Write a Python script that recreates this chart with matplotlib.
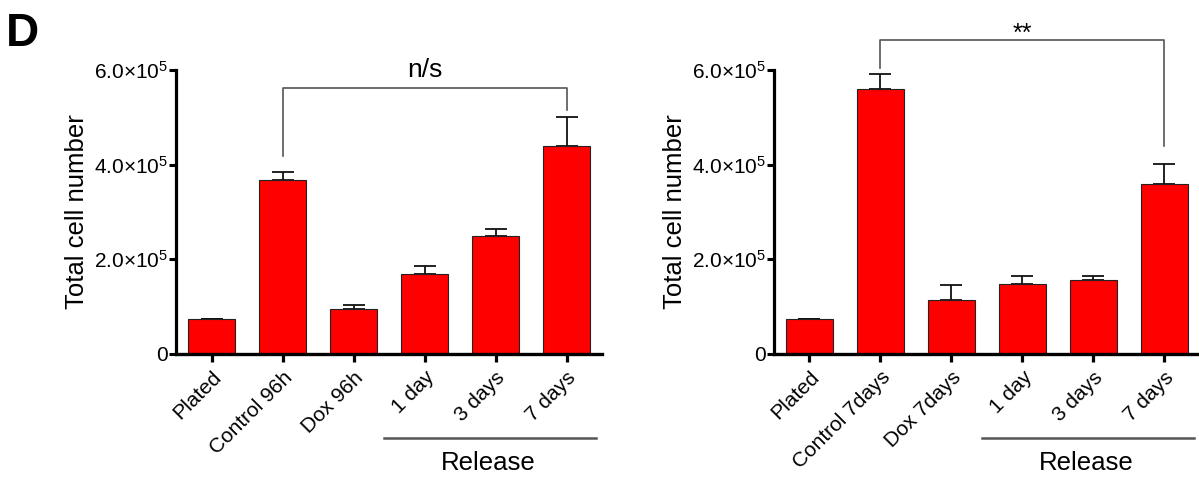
import matplotlib
matplotlib.use("Agg")
import matplotlib.pyplot as plt
import matplotlib.transforms as mtransforms
from matplotlib.ticker import FixedLocator, FixedFormatter

plt.rcParams['font.family'] = ['Liberation Sans', 'DejaVu Sans']
plt.rcParams['mathtext.fontset'] = 'custom'
plt.rcParams['mathtext.rm'] = 'Liberation Sans'
plt.rcParams['mathtext.it'] = 'Liberation Sans:italic'

# data (total cells, mean and upper error)
labels_left = ["Plated", "Control 96h", "Dox 96h", "1 day", "3 days", "7 days"]
means_left = [74000, 368000, 95000, 169000, 249000, 439000]
errs_left = [0, 17000, 8000, 17000, 16000, 61000]

labels_right = ["Plated", "Control 7days", "Dox 7days", "1 day", "3 days", "7 days"]
means_right = [73000, 560000, 114000, 148000, 157000, 360000]
errs_right = [0, 31000, 31000, 17000, 7000, 42000]

yticks = [0, 200000, 400000, 600000]
ytick_labels = ["0", "2.0×10$^5$", "4.0×10$^5$", "6.0×10$^5$"]

# significance brackets: (x1, x2, bar y, left leg end, right leg end, text, text y)
sig_left = (1, 5, 563000, 419000, 515000, "n/s", 585000)
sig_right = (1, 5, 663000, 605000, 440000, "**", 662000)

fig = plt.figure(figsize=(11.99, 4.82), dpi=100)


def draw_panel(ax, labels, means, errs, sig, sig_size):
    x = list(range(len(labels)))
    ax.bar(x, means, width=0.67, color="#ff0000", edgecolor="#222222", linewidth=0.8, zorder=2)
    ax.errorbar(x, means, yerr=[[0] * len(errs), errs], fmt="none", ecolor="#111111",
                elinewidth=1.3, capsize=8, capthick=1.3, zorder=1)
    ax.set_xlim(-0.5, 5.5)
    ax.set_ylim(0, 600000)
    ax.spines['top'].set_visible(False)
    ax.spines['right'].set_visible(False)
    ax.spines['left'].set_linewidth(2.3)
    ax.spines['bottom'].set_linewidth(2.4)
    ax.yaxis.set_major_locator(FixedLocator(yticks))
    ax.yaxis.set_major_formatter(FixedFormatter(ytick_labels))
    ax.tick_params(axis='y', direction='out', length=5, width=2.2, labelsize=15, pad=1)
    ax.tick_params(axis='x', direction='out', length=6, width=2.3, pad=4)
    ax.set_xticks(x)
    ax.set_xticklabels(labels, rotation=45, ha='right', rotation_mode='anchor', fontsize=15)
    ax.set_ylabel("Total cell number", fontsize=18.5, labelpad=3)

    x1, x2, yb, y1, y2, txt, ty = sig
    ax.plot([x1, x1, x2, x2], [y1, yb, yb, y2], color="#555555", lw=1.2, clip_on=False)
    ax.text((x1 + x2) / 2, ty, txt, ha='center', va='baseline', fontsize=sig_size)

    # "Release" group line under the last three categories
    trans = mtransforms.blended_transform_factory(ax.transData, ax.transAxes)
    ax.plot([2.43, 5.42], [-0.296, -0.296], color="#555555", lw=1.8,
            transform=trans, clip_on=False)
    ax.text(3.9, -0.34, "Release", transform=trans, ha='center', va='top', fontsize=18.5)


ax1 = fig.add_axes([0.1468, 0.2656, 0.3553, 0.589])
draw_panel(ax1, labels_left, means_left, errs_left, sig_left, 19)

ax2 = fig.add_axes([0.6455, 0.2656, 0.3553, 0.589])
draw_panel(ax2, labels_right, means_right, errs_right, sig_right, 18)

fig.text(0.005, 0.975, "D", fontsize=33, fontweight='bold', va='top', ha='left')

fig.savefig("out.png", dpi=100)
